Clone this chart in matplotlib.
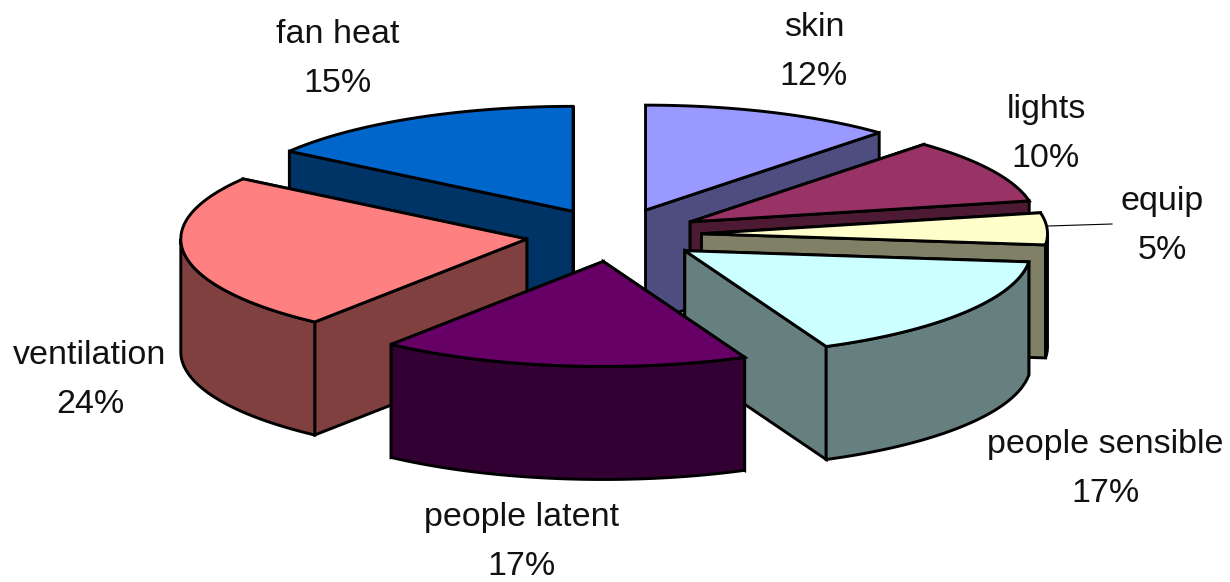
import numpy as np
from matplotlib import pyplot as plt
from matplotlib.patches import Polygon

# slices clockwise from 12 o'clock, the labels round these to whole percents
names = ['skin', 'lights', 'equip', 'people sensible', 'people latent', 'ventilation', 'fan heat']
shares = [11.8, 10.0, 4.9, 16.6, 17.2, 24.2, 15.3]
top_colors = ['#9999FF', '#993366', '#FFFFCC', '#CCFFFF', '#660066', '#FF8080', '#0066CC']
side_colors = ['#4D4D80', '#4D1A33', '#808066', '#668080', '#330033', '#804040', '#003366']

# pixel layout of the fake 3d pie
CX, CY = 613.7, 235
RX, RY = 346, 105
DEPTH = 113
EXPLODE = 0.254
LINE = 2.1

# centre of each label, same order as names
label_pos = [(814, 52), (1046, 134), (1162, 226), (1105, 469), (522, 542), (90, 380), (338, 59)]
# back slices first so the front ones paint over them
draw_order = [6, 0, 1, 2, 5, 3, 4]


def rim(cx, cy, a, b, n=80):
    t = np.radians(np.linspace(a, b, n))
    return np.column_stack([cx + RX * np.sin(t), cy - RY * np.cos(t)])


def add_poly(ax, pts, color):
    ax.add_patch(Polygon(pts, closed=True, facecolor=color, edgecolor='black',
                         linewidth=LINE, joinstyle='miter'))


fig = plt.figure(figsize=(12.3, 5.82), dpi=100)
ax = fig.add_axes([0, 0, 1, 1])
ax.set_xlim(0, 1230)
ax.set_ylim(582, 0)
ax.axis('off')

edges = np.concatenate([[0], np.cumsum(shares)]) / sum(shares) * 360

for i in draw_order:
    a, b = edges[i], edges[i + 1]
    mid = np.radians((a + b) / 2)
    x0 = CX + EXPLODE * RX * np.sin(mid)
    y0 = CY - EXPLODE * RY * np.cos(mid)
    apex = np.array([x0, y0])
    down = np.array([0, DEPTH])
    top = rim(x0, y0, a, b)

    # the two cut faces, the one further back goes first
    for p in sorted((top[0], top[-1]), key=lambda q: q[1]):
        add_poly(ax, [apex, p, p + down, apex + down], side_colors[i])
    # curved wall, only the part that faces the viewer
    lo, hi = max(a, 90), min(b, 270)
    if lo < hi:
        arc = rim(x0, y0, lo, hi)
        add_poly(ax, np.vstack([arc, arc[::-1] + down]), side_colors[i])
    add_poly(ax, np.vstack([apex, top]), top_colors[i])

ax.plot([1048, 1112], [226, 224], color='black', linewidth=0.8)

for name, share, pos in zip(names, shares, label_pos):
    ax.text(pos[0], pos[1], f'{name}\n{round(share)}%', ha='center', va='center',
            family='Liberation Sans', fontsize=24.5, color='#111111', linespacing=1.78)

fig.savefig('out.png', dpi=100)
